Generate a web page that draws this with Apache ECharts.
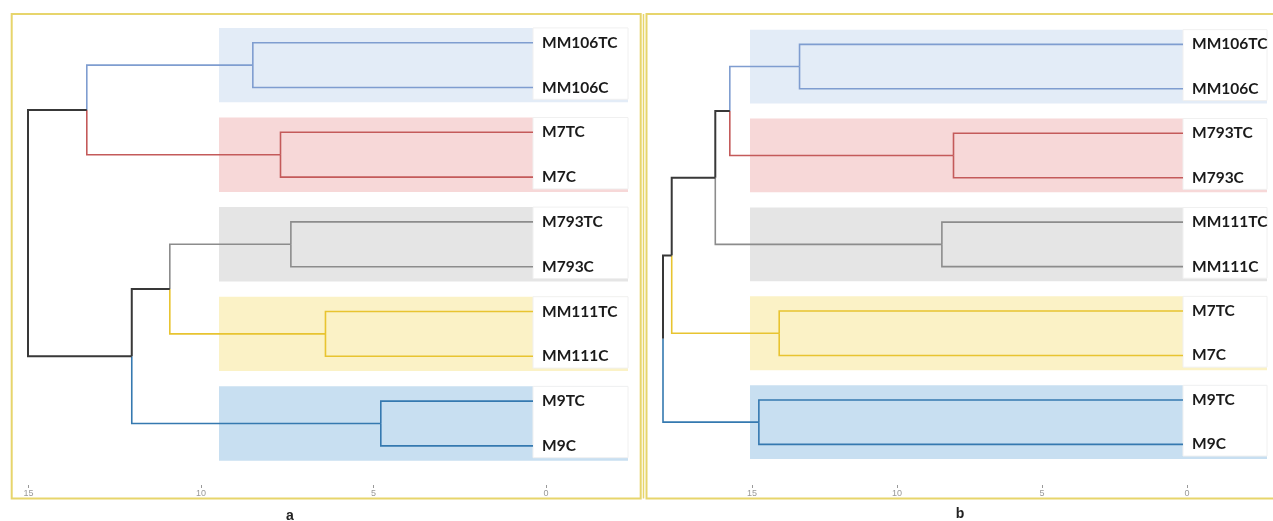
<!DOCTYPE html>
<html><head><meta charset="utf-8">
<script src="https://cdn.jsdelivr.net/npm/echarts@6/dist/echarts.min.js"></script>
<style>html,body{margin:0;padding:0;background:#fff}#c{width:1273px;height:521px}</style>
</head><body><div id="c"></div>
<script>
// ================= DATA =================
// Panel a
const leavesA = ['MM106TC','MM106C','M7TC','M7C','M793TC','M793C','MM111TC','MM111C','M9TC','M9C'];
// merges: child indices (0-9 leaves, 10+ = earlier merges in order)
const mergePairsA = [[0,1],[2,3],[4,5],[6,7],[8,9],[10,11],[12,13],[16,14],[15,17]];
const mergeHeightsA = [8.1, 7.3, 7.0, 6.0, 4.4, 12.9, 10.5, 11.6, 14.6];
// Panel b
const leavesB = ['MM106TC','MM106C','M793TC','M793C','MM111TC','MM111C','M7TC','M7C','M9TC','M9C'];
const mergePairsB = [[0,1],[2,3],[4,5],[6,7],[8,9],[10,11],[15,12],[16,13],[17,14]];
const mergeHeightsB = [13.2, 7.9, 8.3, 13.9, 14.6, 15.6, 16.1, 17.6, 17.9];
// distance axis tick labels
const tickLabels = [0, 5, 10, 15];
const captions = ['a', 'b'];

// ================= STYLE =================
const COL = {blue1:'#7f9dd0', red:'#c45a5a', grey:'#8c8c8c', yellow:'#e8c430', blue2:'#3579b0', black:'#383838'};
const BOXCOL = ['#e3ecf7', '#f7d8d8', '#e5e5e5', '#fbf2c6', '#c8dff1'];
const linkColorsA = [['blue1','blue1'],['red','red'],['grey','grey'],['yellow','yellow'],['blue2','blue2'],['blue1','red'],['grey','yellow'],['black','blue2'],['black','black']];
const linkColorsB = [['blue1','blue1'],['red','red'],['grey','grey'],['yellow','yellow'],['blue2','blue2'],['blue1','red'],['black','grey'],['black','yellow'],['black','blue2']];
const FRAME = '#e7d56c';

const panels = [
  {leaves: leavesA, pairs: mergePairsA, heights: mergeHeightsA, colors: linkColorsA,
   tree: {left: 28, width: 505, top: 20.3, height: 448}, boxLeft: 219, labelW: 95,
   ticks: {left: 28.5, width: 517.5}, caption: {x: 290, y: 516}},
  {leaves: leavesB, pairs: mergePairsB, heights: mergeHeightsB, colors: linkColorsB,
   tree: {left: 663, width: 520, top: 22.1, height: 444.5}, boxLeft: 750, labelW: 84,
   ticks: {left: 752, width: 435}, caption: {x: 960, y: 514}}
];

function buildLinks(p) {
  const n = p.leaves.length, pos = [], hts = [], out = [];
  for (let i = 0; i < n; i++) { pos[i] = i; hts[i] = 0; }
  p.pairs.forEach((pr, k) => {
    const id = n + k, h = p.heights[k];
    pos[id] = (pos[pr[0]] + pos[pr[1]]) / 2; hts[id] = h;
    pr.forEach((c, j) => {
      const key = p.colors[k][j];
      out.push({h: h, ny: pos[id], ch: hts[c], cy: pos[c], color: COL[key], w: key === 'black' ? 2 : 1.6});
    });
  });
  return out;
}

const grid = [], xAxis = [], yAxis = [], series = [], graphic = [];
panels.forEach((p, i) => {
  const gTree = grid.length;
  grid.push({left: p.tree.left, width: p.tree.width, top: p.tree.top, height: p.tree.height});
  const gTick = grid.length;
  grid.push({left: p.ticks.left, width: p.ticks.width, top: 484, height: 1});
  const rootH = Math.max.apply(null, p.heights);
  const xT = xAxis.length;
  xAxis.push({gridIndex: gTree, type: 'value', inverse: true, min: 0, max: rootH, show: false});
  xAxis.push({gridIndex: gTick, type: 'value', inverse: true,
    min: tickLabels[0], max: tickLabels[tickLabels.length - 1], interval: tickLabels[1] - tickLabels[0],
    axisLine: {show: false}, splitLine: {show: false},
    axisTick: {show: true, length: 3, lineStyle: {color: '#999', width: 1}},
    axisLabel: {fontSize: 9, color: '#999', margin: 4, fontFamily: 'Liberation Sans'}});
  const yV = yAxis.length;
  yAxis.push({gridIndex: gTree, type: 'value', inverse: true, min: -0.5, max: p.leaves.length - 0.5, show: false});
  yAxis.push({gridIndex: gTree, type: 'category', inverse: true, position: 'right', data: p.leaves, z: 10,
    axisLine: {show: false}, axisTick: {show: false}, splitLine: {show: false},
    axisLabel: {margin: 9, fontFamily: 'Lato', fontSize: 15.5, fontWeight: 'bold', color: '#1a1a1a', align: 'left'}});
  yAxis.push({gridIndex: gTick, type: 'value', show: false});

  const nBoxes = p.leaves.length / 2, boxData = [];
  for (let k = 0; k < nBoxes; k++) boxData.push([0, 2 * k]);
  series.push({type: 'custom', xAxisIndex: xT, yAxisIndex: yV, z: 1, silent: true, clip: false,
    data: boxData,
    renderItem: (params, api) => {
      const k = params.dataIndex;
      const top = api.coord([0, 2 * k - 0.33])[1], bot = api.coord([0, 2 * k + 1.33])[1];
      const cs = params.coordSys, treeRight = cs.x + cs.width, right = treeRight + p.labelW;
      return {type: 'group', children: [
        {type: 'rect', shape: {x: p.boxLeft, y: top, width: right - p.boxLeft, height: bot - top}, style: {fill: BOXCOL[k]}},
        {type: 'rect', shape: {x: treeRight, y: top, width: p.labelW, height: bot - top - 3}, style: {fill: '#ffffff', stroke: '#f0f0f0', lineWidth: 1}}
      ]};
    }});

  const links = buildLinks(p);
  series.push({type: 'custom', xAxisIndex: xT, yAxisIndex: yV, z: 3, silent: true, clip: false,
    data: links.map(l => [l.h, l.ny, l.ch, l.cy]),
    renderItem: (params, api) => {
      const L = links[params.dataIndex];
      const a = api.coord([L.h, L.ny]), b = api.coord([L.h, L.cy]), c = api.coord([L.ch, L.cy]);
      return {type: 'polyline', shape: {points: [a, b, c]}, style: {stroke: L.color, lineWidth: L.w, fill: null}};
    }});

  graphic.push({type: 'text', x: p.caption.x, y: p.caption.y,
    style: {text: captions[i], font: 'bold 14px "Liberation Sans"', fill: '#222', align: 'center', verticalAlign: 'middle'}});
});

graphic.push({type: 'rect', shape: {x: 11.7, y: 14, width: 629, height: 484.5}, style: {fill: null, stroke: FRAME, lineWidth: 2}});
graphic.push({type: 'line', shape: {x1: 643.5, y1: 14, x2: 643.5, y2: 498.5}, style: {stroke: FRAME, lineWidth: 1.5}});
graphic.push({type: 'rect', shape: {x: 646.5, y: 14, width: 640, height: 484.5}, style: {fill: null, stroke: FRAME, lineWidth: 2}});

const chart = echarts.init(document.getElementById('c'), null, {renderer: 'canvas'});
chart.setOption({animation: false, backgroundColor: '#fff', grid, xAxis, yAxis, series, graphic});
</script></body></html>
